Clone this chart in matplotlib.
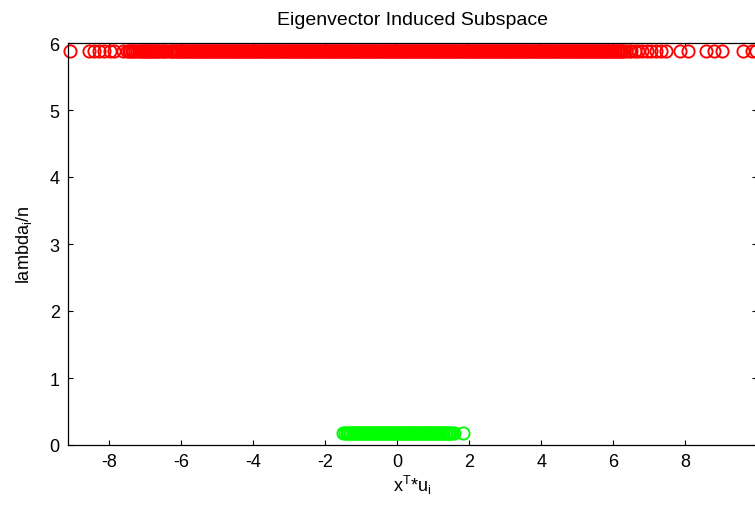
import matplotlib.pyplot as plt

plt.rcParams['font.family'] = ['Liberation Sans', 'DejaVu Sans']
plt.rcParams['mathtext.default'] = 'regular'
plt.rcParams['axes.unicode_minus'] = False

# projections x^T*u_i for the first eigenvector (red) and second (green)
red_x = [
    -9.10, -8.56, -8.42, -8.28, -8.14, -7.99, -7.87, -7.62,
    -7.50, -7.46, -7.42, -7.38, -7.34, -7.30, -7.22, -7.18, -7.14,
    -7.10, -7.06, -7.02, -6.98, -6.94, -6.90, -6.86, -6.82, -6.78, -6.74,
    -6.70, -6.66, -6.62, -6.54, -6.50, -6.46, -6.42, -6.34,
    -6.30, -6.26, -6.22, -6.18, -6.14, -6.10, -6.06, -6.02, -5.98, -5.94,
    -5.90, -5.86, -5.82, -5.78, -5.74, -5.70, -5.66, -5.62, -5.58, -5.54,
    -5.50, -5.46, -5.42, -5.38, -5.34, -5.30, -5.26, -5.22, -5.18, -5.14,
    -5.10, -5.06, -5.02, -4.98, -4.94, -4.90, -4.86, -4.82, -4.78, -4.74,
    -4.70, -4.66, -4.62, -4.58, -4.54, -4.50, -4.46, -4.42, -4.38, -4.34,
    -4.30, -4.26, -4.22, -4.18, -4.14, -4.10, -4.06, -4.02, -3.98, -3.94,
    -3.90, -3.86, -3.82, -3.78, -3.74, -3.70, -3.66, -3.62, -3.58, -3.54,
    -3.50, -3.46, -3.42, -3.38, -3.34, -3.30, -3.26, -3.22, -3.18, -3.14,
    -3.10, -3.06, -3.02, -2.98, -2.94, -2.90, -2.86, -2.82, -2.78, -2.74,
    -2.70, -2.66, -2.62, -2.58, -2.54, -2.50, -2.46, -2.42, -2.38, -2.34,
    -2.30, -2.26, -2.22, -2.18, -2.14, -2.10, -2.06, -2.02, -1.98, -1.94,
    -1.90, -1.86, -1.82, -1.78, -1.74, -1.70, -1.66, -1.62, -1.58, -1.54,
    -1.50, -1.46, -1.42, -1.38, -1.34, -1.30, -1.26, -1.22, -1.18, -1.14,
    -1.10, -1.06, -1.02, -0.98, -0.94, -0.90, -0.86, -0.82, -0.78, -0.74,
    -0.70, -0.66, -0.62, -0.58, -0.54, -0.50, -0.46, -0.42, -0.38, -0.34,
    -0.30, -0.26, -0.22, -0.18, -0.14, -0.10, -0.06, -0.02, 0.02, 0.06,
    0.10, 0.14, 0.18, 0.22, 0.26, 0.30, 0.34, 0.38, 0.42, 0.46,
    0.50, 0.54, 0.58, 0.62, 0.66, 0.70, 0.74, 0.78, 0.82, 0.86,
    0.90, 0.94, 0.98, 1.02, 1.06, 1.10, 1.14, 1.18, 1.22, 1.26,
    1.30, 1.34, 1.38, 1.42, 1.46, 1.50, 1.54, 1.58, 1.62, 1.66,
    1.70, 1.74, 1.78, 1.82, 1.86, 1.90, 1.94, 1.98, 2.02, 2.06,
    2.10, 2.14, 2.18, 2.22, 2.26, 2.30, 2.34, 2.38, 2.42, 2.46,
    2.50, 2.54, 2.58, 2.62, 2.66, 2.70, 2.74, 2.78, 2.82, 2.86,
    2.90, 2.94, 2.98, 3.02, 3.06, 3.10, 3.14, 3.18, 3.22, 3.26,
    3.30, 3.34, 3.38, 3.42, 3.46, 3.50, 3.54, 3.58, 3.62, 3.66,
    3.70, 3.74, 3.78, 3.82, 3.86, 3.90, 3.94, 3.98, 4.02, 4.06,
    4.10, 4.14, 4.18, 4.22, 4.26, 4.30, 4.34, 4.38, 4.42, 4.46,
    4.50, 4.54, 4.58, 4.62, 4.66, 4.70, 4.74, 4.78, 4.82, 4.86,
    4.90, 4.94, 4.98, 5.02, 5.06, 5.10, 5.14, 5.18, 5.22, 5.26,
    5.30, 5.34, 5.38, 5.42, 5.46, 5.50, 5.54, 5.58, 5.62, 5.66,
    5.70, 5.74, 5.78, 5.82, 5.86, 5.90, 5.94, 5.98, 6.02, 6.06,
    6.10, 6.14, 6.18, 6.22, 6.26, 6.30, 6.36, 6.43, 6.51, 6.60,
    6.70, 6.81, 6.93, 7.06, 7.20, 7.34, 7.48,
    7.85, 8.08, 8.58, 8.80, 9.02, 9.61, 9.86, 9.98,
]
red_lambda = 5.88

green_x = [
    -1.51,
    -1.44, -1.40, -1.36, -1.32, -1.28, -1.24, -1.20, -1.16, -1.12, -1.08,
    -1.04, -1.00, -0.96, -0.92, -0.88, -0.84, -0.80, -0.76, -0.72, -0.68,
    -0.64, -0.60, -0.56, -0.52, -0.48, -0.44, -0.40, -0.36, -0.32, -0.28,
    -0.24, -0.20, -0.16, -0.12, -0.08, -0.04, 0.00, 0.04, 0.08, 0.12,
    0.16, 0.20, 0.24, 0.28, 0.32, 0.36, 0.40, 0.44, 0.48, 0.52,
    0.56, 0.60, 0.64, 0.68, 0.72, 0.76, 0.80, 0.84, 0.88, 0.92,
    0.96, 1.00, 1.04, 1.08, 1.12, 1.16, 1.20, 1.24, 1.28, 1.32,
    1.36, 1.40, 1.44, 1.48, 1.53, 1.59, 1.84,
]
green_lambda = 0.18

x_ticks = [-8, -6, -4, -2, 0, 2, 4, 6, 8]
y_ticks = [0, 1, 2, 3, 4, 5, 6]

fig = plt.figure(figsize=(7.55, 5.06), dpi=100)
ax = fig.add_axes([68 / 755, 1 - 446 / 506, (757 - 68) / 755, (446 - 44) / 506])

ax.plot(red_x, [red_lambda] * len(red_x), 'o', mfc='none', mec=(1, 0, 0),
        ms=8.8, mew=1.35, clip_on=False)
ax.plot(green_x, [green_lambda] * len(green_x), 'o', mfc='none', mec=(0, 1, 0),
        ms=8.8, mew=1.35, clip_on=False)

ax.set_xlim(-9.15, 10.0)
ax.set_ylim(0, 6)
ax.set_xticks(x_ticks)
ax.set_yticks(y_ticks)
ax.tick_params(direction='in', length=3.6, width=0.8, top=True, right=True,
               labelsize=13, pad=6, colors='black')
for s in ax.spines.values():
    s.set_linewidth(0.9)

ax.set_title('Eigenvector Induced Subspace', fontsize=14, pad=14)
ax.set_xlabel('x$^{T}$*u$_{i}$', fontsize=13, labelpad=2)
ax.set_ylabel('lambda$_{i}$/n', fontsize=13, labelpad=11)

fig.savefig('out.png', dpi=100)
